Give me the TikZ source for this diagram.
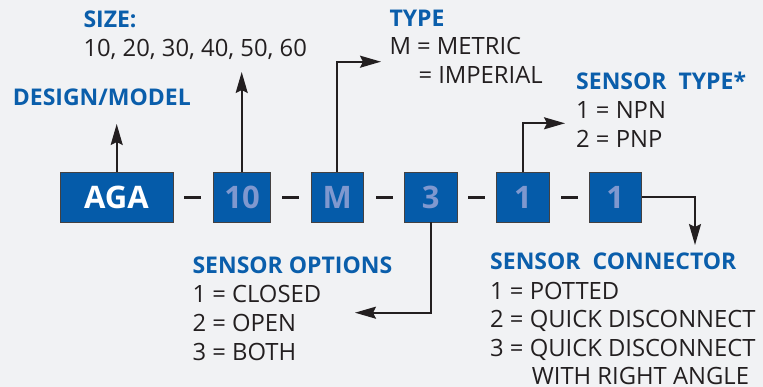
\documentclass[tikz,border=0pt]{standalone}
\usepackage{fontspec}
\setmainfont{Open Sans}
\usetikzlibrary{arrows.meta}
\definecolor{bg}{HTML}{F1F2F4}
\definecolor{boxblue}{HTML}{055BA9}
\definecolor{lightdigit}{HTML}{7F98CF}
\definecolor{headblue}{HTML}{0A5EAB}
\definecolor{ink}{HTML}{231F20}
\tikzset{
  codebox/.style={draw=ink!85, line width=0.9pt, fill=boxblue, minimum height=50pt, inner sep=0pt,
    font=\fontsize{31}{31}\selectfont\bfseries},
  sep/.style={fill=ink, minimum width=17pt, minimum height=3.6pt, inner sep=0pt},
  head/.style={anchor=base west, inner sep=0pt, text=headblue, font=\fontsize{23}{23}\selectfont\bfseries},
  body/.style={anchor=base west, inner sep=0pt, text=ink, font=\fontsize{23.8}{23.8}\selectfont},
  arr/.style={draw=ink, line width=1.9pt, -{Stealth[length=21pt,width=12pt,inset=3pt]}},
}
\begin{document}
\begin{tikzpicture}[x=1pt,y=-1pt]
\fill[bg] (0,0) rectangle (763,387);
\useasboundingbox (0,0) rectangle (763,387);

% code boxes
\node[codebox, minimum width=113pt, text=white] (aga) at (116.5,197) {AGA};
\node[codebox, minimum width=56.6pt, text=lightdigit] (b10) at (242,197) {10};
\node[codebox, minimum width=52.3pt, text=lightdigit] (bm) at (337.2,197) {M};
\node[codebox, minimum width=52.7pt, text=lightdigit] (b3) at (430.7,197) {3};
\node[codebox, minimum width=52.3pt, text=lightdigit] (b1a) at (522.9,197) {1};
\node[codebox, minimum width=52.3pt, text=lightdigit] (b1b) at (615.2,197) {1};

% separators
\node[sep] (s1) at (192.5,197.5) {};
\node[sep] (s2) at (290.3,197.5) {};
\node[sep] (s3) at (384,197.5) {};
\node[sep] (s4) at (476,197.5) {};
\node[sep] (s5) at (569,197.5) {};

% labels
\node[head] (size) at (83.3,27.7) {SIZE:};
\node[body] (sizes) at (83.3,56.7) {10, 20, 30, 40, 50, 60};
\node[head] (design) at (12.7,106) {DESIGN/MODEL};

\node[head] (type) at (389.3,26.7) {TYPE};
\node[body] (metric) at (389.3,55) {M = METRIC};
\node[body] (imperial) at (418.3,84) {= IMPERIAL};

\node[head] (stype) at (576,90) {SENSOR\ \ TYPE*};
\node[body] (npn) at (576,119) {1 = NPN};
\node[body] (pnp) at (576,147.7) {2 = PNP};

\node[head] (sopt) at (192.3,273.3) {SENSOR OPTIONS};
\node[body] (closed) at (192.3,302.3) {1 = CLOSED};
\node[body] (open) at (192.3,331) {2 = OPEN};
\node[body] (both) at (192.3,360) {3 = BOTH};

\node[head] (sconn) at (490,270) {SENSOR\ \ CONNECTOR};
\node[body] (potted) at (490,299.3) {1 = POTTED};
\node[body] (qd) at (490,327.7) {2 = QUICK DISCONNECT};
\node[body] (qdra) at (490,356.3) {3 = QUICK DISCONNECT};
\node[body] (ra) at (531.7,384.3) {WITH RIGHT ANGLE};

% arrow ends
\coordinate (tA) at (116.7,124);
\coordinate (t10) at (241.7,72);
\coordinate (tM) at (381,61.7);
\coordinate (t1a) at (565,123.3);
\coordinate (t1b) at (695,245);
\coordinate (t3) at (355,312.7);

% connectors
\draw[arr] (aga.north -| tA) -- (tA);
\draw[arr] (b10.north -| t10) -- (t10);
\draw[arr] (bm.north) |- (tM);
\draw[arr] (b1a.north) |- (t1a);
\draw[arr] (b1b.east) -| (t1b);
\draw[arr] (b3.south) |- (t3);
\end{tikzpicture}
\end{document}
